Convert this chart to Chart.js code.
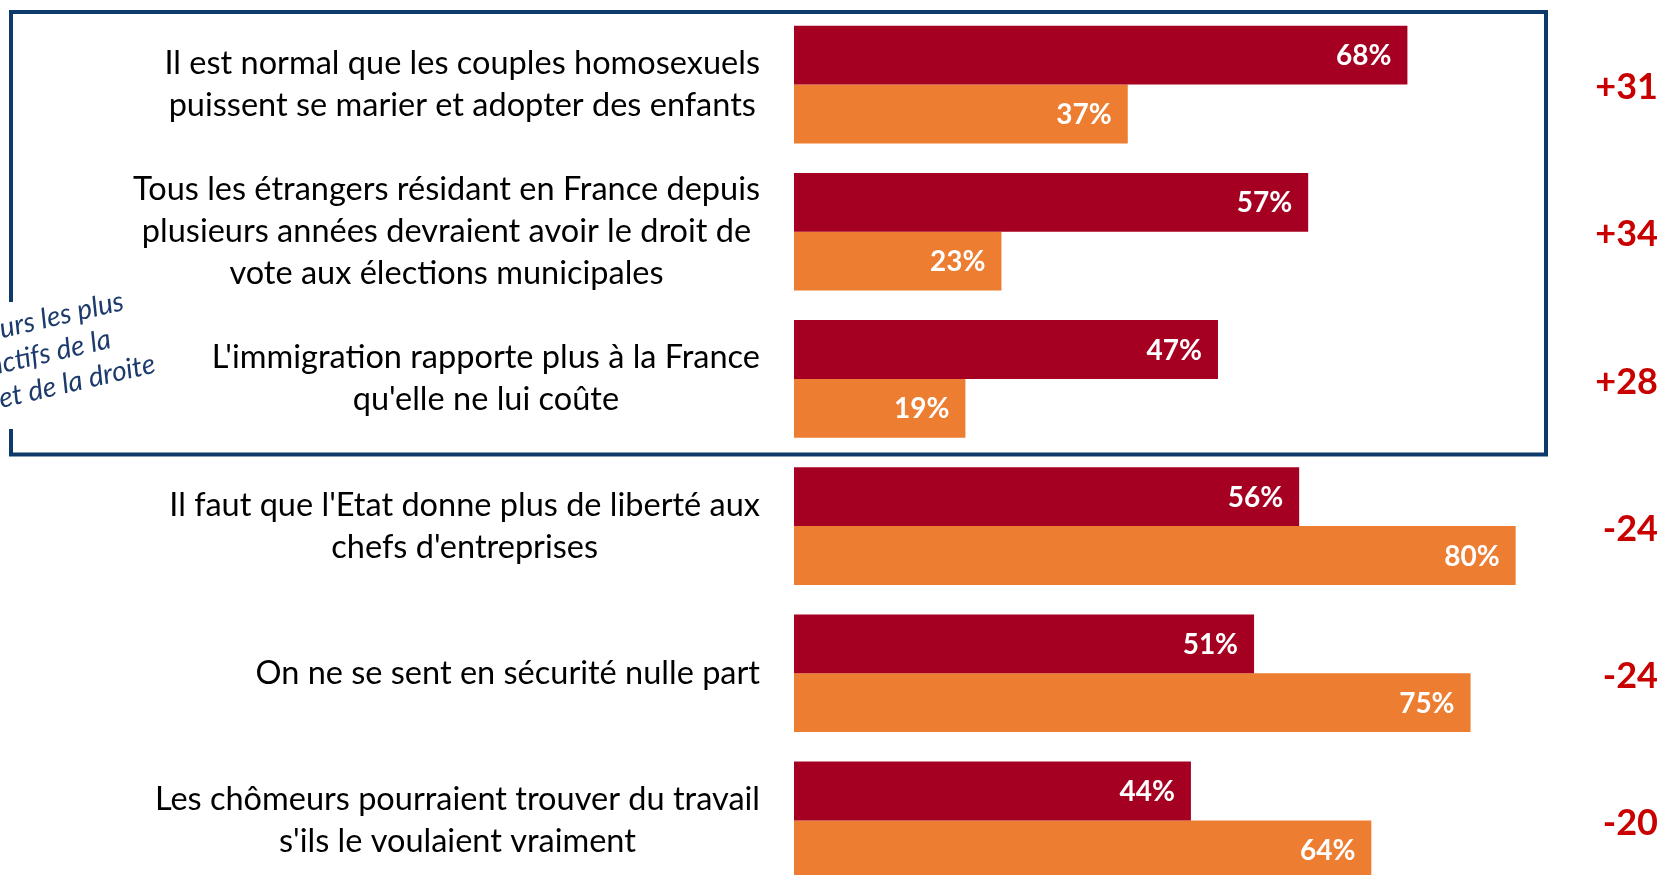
<!DOCTYPE html>
<html>
<head>
<meta charset="utf-8">
<script src="https://cdn.jsdelivr.net/npm/chart.js@4"></script>
<style>
  html, body { margin: 0; padding: 0; background: #fff; overflow: hidden; }
  #wrap { width: 1660px; height: 895px; }
</style>
</head>
<body>
<div id="wrap"><canvas id="chart" width="1660" height="895"></canvas></div>
<script>
// statements (multi-line labels)
var categories = [
    ['Il est normal que les couples homosexuels', 'puissent se marier et adopter des enfants'],
    ['Tous les étrangers résidant en France depuis', 'plusieurs années devraient avoir le droit de', 'vote aux élections municipales'],
    ["L'immigration rapporte plus à la France", "qu'elle ne lui coûte"],
    ["Il faut que l'Etat donne plus de liberté aux", "chefs d'entreprises"],
    ['On ne se sent en sécurité nulle part'],
    ['Les chômeurs pourraient trouver du travail', "s'ils le voulaient vraiment"]
];
var gaucheValues = [68, 57, 47, 56, 51, 44];
var droiteValues = [37, 23, 19, 80, 75, 64];
var ecartLabels = ['+31', '+34', '+28', '-24', '-24', '-20'];
var boxNote = ['Marqueurs les plus', 'distinctifs de la', 'gauche et de la droite'];

var decorations = {
    id: 'decorations',
    afterDatasetsDraw: function (chart) {
        var ctx = chart.ctx;
        var y = chart.scales.y;
        ctx.save();

        // values inside the bars
        ctx.fillStyle = '#ffffff';
        ctx.font = 'bold 28px Lato';
        ctx.textAlign = 'right';
        ctx.textBaseline = 'middle';
        chart.data.datasets.forEach(function (ds, i) {
            chart.getDatasetMeta(i).data.forEach(function (bar, j) {
                ctx.fillText(ds.data[j] + '%', bar.x - 16, bar.y + 1);
            });
        });

        // statements on the left, lines centred, block right-aligned
        ctx.fillStyle = '#000000';
        ctx.font = '32.5px Lato';
        ctx.textAlign = 'center';
        categories.forEach(function (lines, i) {
            var widest = Math.max.apply(null, lines.map(function (l) { return ctx.measureText(l).width; }));
            var cx = 760 - widest / 2;
            var cy = y.getPixelForValue(i);
            lines.forEach(function (l, k) {
                ctx.fillText(l, cx, cy + (k - (lines.length - 1) / 2) * 42);
            });
        });

        // gaps on the right
        ctx.fillStyle = '#C80000';
        ctx.font = 'bold 36px Lato';
        ctx.textAlign = 'right';
        ecartLabels.forEach(function (t, i) {
            ctx.fillText(t, 1658, y.getPixelForValue(i) + 3);
        });

        // frame around the first three statements
        var top = chart.chartArea.top + 1;
        var bottom = (y.getPixelForValue(2) + y.getPixelForValue(3)) / 2 + 2;
        ctx.strokeStyle = '#0d3a6b';
        ctx.lineWidth = 4;
        ctx.lineJoin = 'miter';
        ctx.beginPath();
        ctx.moveTo(11, 302);
        ctx.lineTo(11, top);
        ctx.lineTo(1546, top);
        ctx.lineTo(1546, bottom);
        ctx.lineTo(11, bottom);
        ctx.lineTo(11, 429);
        ctx.stroke();

        // tilted note
        ctx.save();
        ctx.translate(20, 334);
        ctx.rotate(-13 * Math.PI / 180);
        ctx.font = 'italic 28px Lato';
        ctx.fillStyle = '#1c3a6b';
        ctx.textAlign = 'center';
        ctx.textBaseline = 'alphabetic';
        boxNote.forEach(function (l, k) {
            ctx.fillText(l, 0, k * 34);
        });
        ctx.restore();

        ctx.restore();
    }
};

var ctx = document.getElementById('chart').getContext('2d');
var chart = new Chart(ctx, {
    type: 'bar',
    data: {
        labels: categories,
        datasets: [{
            label: 'Gauche',
            data: gaucheValues,
            backgroundColor: '#A50021',
            categoryPercentage: 0.8,
            barPercentage: 1.0
        }, {
            label: 'Droite',
            data: droiteValues,
            backgroundColor: '#ED7D31',
            categoryPercentage: 0.8,
            barPercentage: 1.0
        }]
    },
    options: {
        indexAxis: 'y',
        responsive: false,
        animation: false,
        layout: { padding: { left: 794, right: 0, top: 11, bottom: 1 } },
        scales: {
            x: { display: false, min: 0, max: 96 },
            y: { display: false }
        },
        plugins: {
            legend: { display: false },
            tooltip: { enabled: false }
        }
    },
    plugins: [decorations]
});
</script>
</body>
</html>
